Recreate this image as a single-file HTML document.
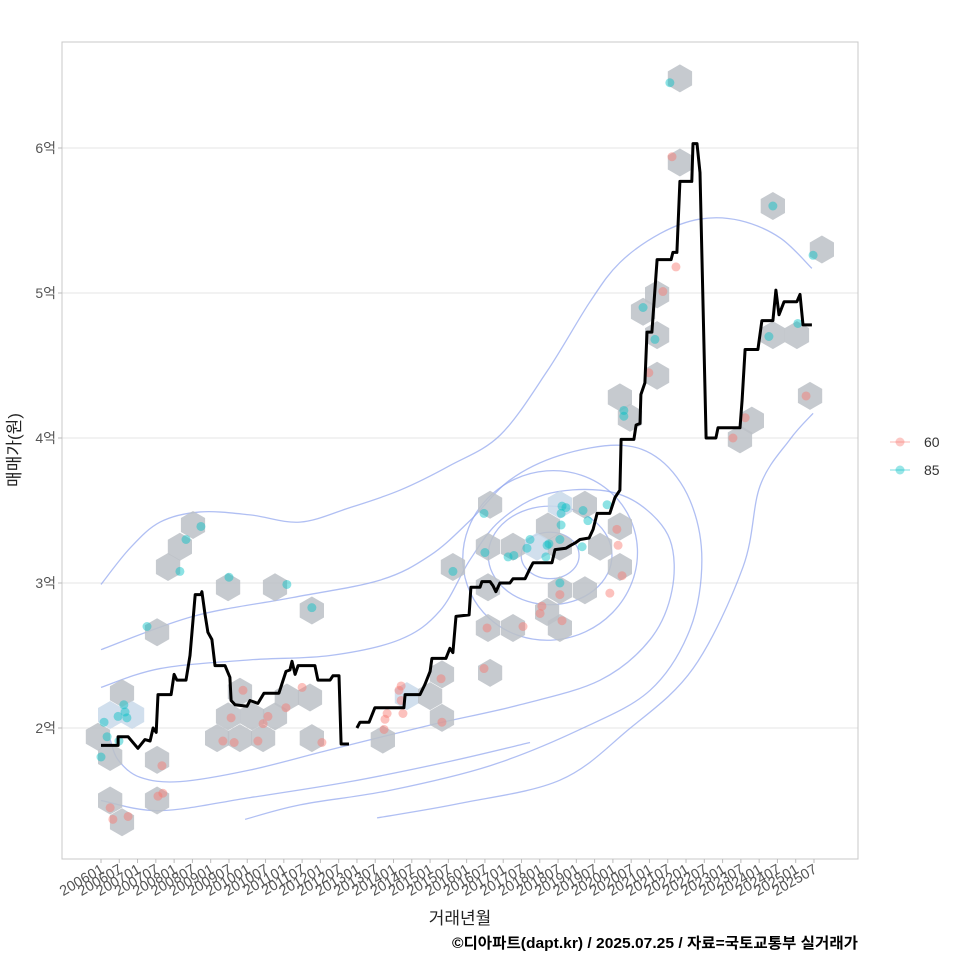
<!DOCTYPE html>
<html><head><meta charset="utf-8">
<style>
html,body{margin:0;padding:0;background:#fff;}
svg{display:block;font-family:"Liberation Sans","Noto Sans CJK KR",sans-serif;}
</style></head>
<body>
<svg id="chart" width="960" height="960" viewBox="0 0 960 960" xmlns="http://www.w3.org/2000/svg">
<rect x="0" y="0" width="960" height="960" fill="#fff"/>
<g id="grid"></g>
<g id="contours"></g>
<g id="hexes"></g>
<g id="points"></g>
<g id="line"></g>
<rect x="62" y="42" width="796" height="817" fill="none" stroke="#c8c8c8" stroke-width="1"/>
<g id="yaxis"></g>
<g id="xaxis"></g>
<text transform="translate(20,450) rotate(-90)" text-anchor="middle" font-size="17" fill="#222">매매가(원)</text>
<text x="460" y="924" text-anchor="middle" font-size="17" fill="#222">거래년월</text>
<text x="858" y="948" text-anchor="end" font-size="15" font-weight="bold" fill="#000" textLength="406" lengthAdjust="spacingAndGlyphs">©디아파트(dapt.kr) / 2025.07.25 / 자료=국토교통부 실거래가</text>
<g>
  <g>
    <line x1="890" y1="442" x2="910" y2="442" stroke="#F8766D" stroke-opacity="0.35" stroke-width="1.5"/>
    <circle cx="900" cy="442" r="4.5" fill="#F8766D" fill-opacity="0.4"/>
    <text x="924" y="447" font-size="14" fill="#333">60</text>
  </g>
  <g>
    <line x1="890" y1="470" x2="910" y2="470" stroke="#00BFC4" stroke-opacity="0.35" stroke-width="1.5"/>
    <circle cx="900" cy="470" r="4.5" fill="#00BFC4" fill-opacity="0.4"/>
    <text x="924" y="475" font-size="14" fill="#333">85</text>
  </g>
</g>
</svg>
<script>
// ---- data (month index from 2006-01, value in 억원) ----
const lineMonths = [0,5.6,5.6,8.9,12.1,14.4,16.1,17.1,18.1,18.7,23.0,24.0,24.9,27.9,29.2,30.9,32.8,33.1,34.1,35.1,36.4,37.4,40.7,42.3,42.7,44.0,47.9,48.9,51.5,53.5,58.4,60.7,62.0,62.7,63.7,64.7,70.2,71.2,75.2,76.1,78.1,78.8,81.4,null,84.0,85.0,88.0,89.9,99.4,99.8,104.7,106.3,108.0,108.6,113.2,114.5,115.5,116.5,120.8,121.4,124.4,125.0,127.7,128.7,129.6,130.9,134.2,135.2,139.2,140.8,141.8,148.0,149.0,152.6,154.2,155.9,157.2,160.2,161.5,162.8,167.0,168.7,170.3,170.7,174.9,175.6,176.9,177.2,178.5,179.2,180.8,181.8,182.5,187.1,187.7,189.0,190.0,193.9,194.3,195.6,196.6,198.6,201.8,202.5,209.7,210.4,211.4,215.6,216.9,220.5,221.5,222.5,224.2,228.4,229.4,230.4,233.3];
const lineValues = [1.88,1.88,1.94,1.94,1.86,1.92,1.91,2.00,1.97,2.23,2.23,2.37,2.33,2.33,2.50,2.92,2.92,2.94,2.79,2.66,2.61,2.43,2.43,2.35,2.19,2.16,2.15,2.19,2.17,2.24,2.24,2.39,2.40,2.46,2.37,2.43,2.43,2.33,2.33,2.36,2.36,1.89,1.89,null,2.00,2.04,2.04,2.14,2.14,2.23,2.23,2.30,2.39,2.48,2.48,2.55,2.52,2.77,2.78,2.97,2.97,3.01,3.01,2.98,2.94,3.00,3.00,3.03,3.03,3.10,3.14,3.14,3.23,3.24,3.26,3.28,3.30,3.31,3.37,3.48,3.48,3.59,3.64,3.99,3.99,4.09,4.10,4.30,4.38,4.73,4.73,5.02,5.23,5.23,5.28,5.28,5.77,5.77,6.03,6.03,5.83,4.00,4.00,4.07,4.07,4.26,4.61,4.61,4.81,4.81,5.02,4.85,4.94,4.94,4.99,4.78,4.78];

const redMonths = [3.0,3.9,8.9,18.7,20.3,20.0,40.0,42.7,43.7,46.6,51.5,53.2,54.8,60.7,66.0,72.5,92.9,93.2,93.9,97.8,98.5,99.1,98.5,111.6,111.9,125.7,126.7,138.5,144.1,144.7,150.6,151.3,167.0,169.3,169.7,171.0,187.4,188.7,184.4,179.8,207.4,211.4,231.4];
const redValues = [1.45,1.37,1.39,1.53,1.55,1.74,1.91,2.07,1.90,2.26,1.91,2.03,2.08,2.14,2.28,1.90,1.99,2.06,2.10,2.26,2.29,2.10,2.19,2.34,2.04,2.41,2.69,2.70,2.79,2.84,2.92,2.74,2.93,3.37,3.26,3.05,5.94,5.18,5.01,4.45,4.00,4.14,4.29];

const tealMonths = [1.0,0,2.0,5.6,7.5,8.5,7.9,5.9,15.1,25.9,27.9,32.8,42.0,61.0,69.2,115.5,125.7,126.0,133.6,135.5,139.8,140.8,146.4,147.0,146.0,151.0,151.0,151.3,152.6,150.6,150.6,158.2,159.8,157.9,166.1,171.6,171.6,177.9,181.8,186.7,220.5,219.2,228.7,233.7];
const tealValues = [2.04,1.80,1.94,2.08,2.16,2.07,2.11,1.91,2.70,3.08,3.30,3.39,3.04,2.99,2.83,3.08,3.48,3.21,3.18,3.19,3.24,3.30,3.26,3.27,3.18,3.40,3.48,3.53,3.52,3.00,3.30,3.50,3.43,3.25,3.54,4.19,4.15,4.90,4.68,6.45,5.60,4.70,4.79,5.26];

const hexMonths = [-1,6.9,3,10.2,3,18.4,3,6.9,18.4,18.4,22,25.9,30.2,41.7,57.1,69.2,45.6,41.7,49.6,38.1,45.6,53.2,57.1,61,68.6,69.2,92.5,100.4,108,111.9,111.9,115.5,127.7,127,135.2,127,127,135.2,127.7,150.6,158.8,146.7,143.1,150.6,163.8,170.3,170.3,150.6,158.8,146.4,150.6,170.3,173.6,177.9,182.5,182.5,182.5,190,190,213.6,209.7,220.5,228.4,232.7,236.6,220.5];
const hexValues = [1.94,2.24,2.09,2.09,1.80,1.78,1.50,1.35,1.50,2.66,3.11,3.25,3.40,2.97,2.97,2.81,2.25,2.08,2.08,1.93,1.93,1.93,2.08,2.21,2.21,1.93,1.92,2.22,2.22,2.07,2.37,3.11,3.54,3.25,3.25,2.97,2.69,2.69,2.38,3.54,3.54,3.39,3.25,3.25,3.25,3.39,3.11,2.95,2.95,2.80,2.69,4.28,4.14,4.87,4.71,4.43,4.99,5.90,6.48,4.12,3.99,4.71,4.71,4.29,5.30,5.60];
const hexLight = [0,0,1,1,0,0,0,0,0,0,0,0,0,0,0,0,0,0,0,0,0,0,0,0,0,0,0,1,0,0,0,0,0,0,0,0,0,0,0,1,0,0,1,0,0,0,0,0,0,0,0,0,0,0,0,0,0,0,0,0,0,0,0,0,0,0];

// density contour paths
const contourAMonths = [0,9.5,19.4,32.5,48.9,65.3,81.7,98.1,114.5,131,146.4,160.5,170.3,183.5,196.6,209.7,222.9,233.3];
const contourAValues = [2.99,3.24,3.42,3.49,3.47,3.42,3.52,3.64,3.81,4.02,4.46,4.94,5.21,5.41,5.51,5.50,5.38,5.17];
const contourA2Months = [90.6,117.8,150.6,172.6,194.3,210.7,216.3,226.1,233.7];
const contourA2Values = [1.38,1.48,1.64,1.98,2.41,3.11,3.67,3.99,4.17];
const contourBMonths = [0,30.2,63,91.6,108,121.1,134.2,150.6,170.3,183.5,193.3,197.2,193.3,180.2,157.2,127.7,94.8,65.3,47.3];
const contourBValues = [2.54,2.77,2.90,3.02,3.19,3.43,3.71,3.88,3.95,3.85,3.57,3.16,2.68,2.26,1.99,1.74,1.57,1.47,1.37];
const contourCMonths = [0,19.4,48.9,75.2,98.1,111.3,121.1,131,145.7,163.8,176.9,186.7,187.4,180.2,163.8,137.5,108,75.2,48.9,25.9,12.8,5.6,3];
const contourCValues = [2.28,2.41,2.47,2.50,2.61,2.81,3.16,3.43,3.61,3.64,3.54,3.30,2.95,2.61,2.33,2.16,2.02,1.85,1.71,1.63,1.66,1.78,1.92];
const contourDMonths = [0,19.4,48.9,81.7,114.5,140.8];
const contourDValues = [1.50,1.43,1.52,1.63,1.77,1.90];
const ellipseCenterMonth = 147.4, ellipseCenterValue = 3.19;
const ellipseRxMonths = [9.5,20.3,28.9];
const ellipseRyValues = [0.16,0.34,0.58];

const yTicks = [2,3,4,5,6];
const yTickLabels = ["2억","3억","4억","5억","6억"];
const xTickLabels = [];
for (let yr=2006; yr<=2025; yr++){ xTickLabels.push(yr+"01"); xTickLabels.push(yr+"07"); }

// ---- scales ----
const X0=101, MPX=3.047, Y2=728, PPV=145;
function xs(m){ return X0 + m*MPX; }
function ys(v){ return Y2 - (v-2)*PPV; }
const NS="http://www.w3.org/2000/svg";
function mk(tag, parent){ const e=document.createElementNS(NS,tag); parent.appendChild(e); return e; }

// grid + y axis
const grid=document.getElementById('grid'), yaxis=document.getElementById('yaxis');
yTicks.forEach((v,i)=>{
  const g=mk('line',grid);
  
  
  g.setAttribute('x1',62); g.setAttribute('x2',858); g.setAttribute('y1',ys(v)); g.setAttribute('y2',ys(v));
  g.setAttribute('stroke','#e4e4e4'); g.setAttribute('stroke-width','1');
  const tk=mk('line',yaxis);
  
  
  tk.setAttribute('x1',58); tk.setAttribute('x2',62); tk.setAttribute('y1',ys(v)); tk.setAttribute('y2',ys(v));
  tk.setAttribute('stroke','#bbb');
  const t=mk('text',yaxis);
  
  
  t.setAttribute('x',56); t.setAttribute('y',ys(v)+5); t.setAttribute('text-anchor','end');
  t.setAttribute('font-size','14'); t.setAttribute('fill','#555');
  t.textContent=yTickLabels[i];
});

// x axis
const xaxis=document.getElementById('xaxis');
xTickLabels.forEach((lab,i)=>{
  if (i>=40) return;
  const m=i*6, x=xs(m);
  const tk=mk('line',xaxis);
  
  
  tk.setAttribute('x1',x); tk.setAttribute('x2',x); tk.setAttribute('y1',859); tk.setAttribute('y2',863);
  tk.setAttribute('stroke','#bbb');
  const t=mk('text',xaxis);
  
  
  t.setAttribute('transform','translate('+(x+4)+',872) rotate(-30)');
  t.setAttribute('text-anchor','end');
  t.setAttribute('font-size','14.5'); t.setAttribute('fill','#555');
  t.textContent=lab;
});

// contours
const cg=document.getElementById('contours');
function smoothPath(ms,vs){
  const p=ms.map((m,i)=>[xs(m),ys(vs[i])]);
  let d='M'+p[0][0]+','+p[0][1];
  for(let i=0;i<p.length-1;i++){
    const p0=p[i-1]||p[i], p1=p[i], p2=p[i+1], p3=p[i+2]||p2;
    const c1=[p1[0]+(p2[0]-p0[0])/6, p1[1]+(p2[1]-p0[1])/6];
    const c2=[p2[0]-(p3[0]-p1[0])/6, p2[1]-(p3[1]-p1[1])/6];
    d+=' C'+c1[0]+','+c1[1]+' '+c2[0]+','+c2[1]+' '+p2[0]+','+p2[1];
  }
  return d;
}
[[contourAMonths,contourAValues],[contourA2Months,contourA2Values],[contourBMonths,contourBValues],[contourCMonths,contourCValues],[contourDMonths,contourDValues]].forEach(c=>{
  const p=mk('path',cg);
  
  
  p.setAttribute('d',smoothPath(c[0],c[1]));
  p.setAttribute('fill','none'); p.setAttribute('stroke','#8fa4ee'); p.setAttribute('stroke-opacity','0.7'); p.setAttribute('stroke-width','1.3');
});
ellipseRxMonths.forEach((rx,i)=>{
  const e=mk('ellipse',cg);
  
  
  const cx=xs(ellipseCenterMonth), cy=ys(ellipseCenterValue);
  e.setAttribute('cx',cx); e.setAttribute('cy',cy);
  e.setAttribute('rx',rx*MPX); e.setAttribute('ry',ellipseRyValues[i]*PPV);
  if(i===2) e.setAttribute('transform','rotate(-25 '+cx+' '+cy+')');
  e.setAttribute('fill','none'); e.setAttribute('stroke','#8fa4ee'); e.setAttribute('stroke-opacity','0.7'); e.setAttribute('stroke-width','1.3');
});

// hexes
const hg=document.getElementById('hexes');
const R=14;
hexMonths.forEach((m,i)=>{
  const cx=xs(m), cy=ys(hexValues[i]);
  let pts=[];
  for(let k=0;k<6;k++){ const a=Math.PI/180*(60*k-90); pts.push((cx+R*Math.cos(a)).toFixed(1)+','+(cy+R*Math.sin(a)).toFixed(1)); }
  const h=mk('polygon',hg);
  
  
  h.setAttribute('points',pts.join(' '));
  h.setAttribute('fill',hexLight[i]?'#c9d9ea':'#bcc1c7');
  h.setAttribute('fill-opacity','0.85');
});

// points
const pg=document.getElementById('points');
function drawPts(ms,vs,col,name){
  ms.forEach((m,i)=>{
    const c=mk('circle',pg);
    
    
    c.setAttribute('cx',xs(m)); c.setAttribute('cy',ys(vs[i])); c.setAttribute('r',4.5);
    c.setAttribute('fill',col); c.setAttribute('fill-opacity','0.45');
  });
}
drawPts(redMonths,redValues,'#F8766D','point-60');
drawPts(tealMonths,tealValues,'#00BFC4','point-85');

// line
const lg=document.getElementById('line');
let d='', start=true;
lineMonths.forEach((m,i)=>{
  if(m===null){ start=true; return; }
  d+=(start?'M':'L')+xs(m).toFixed(1)+','+ys(lineValues[i]).toFixed(1)+' ';
  start=false;
});
const lp=mk('path',lg);


lp.setAttribute('d',d);
lp.setAttribute('fill','none'); lp.setAttribute('stroke','#000'); lp.setAttribute('stroke-width','3'); lp.setAttribute('stroke-linejoin','round');
</script>
</body></html>
